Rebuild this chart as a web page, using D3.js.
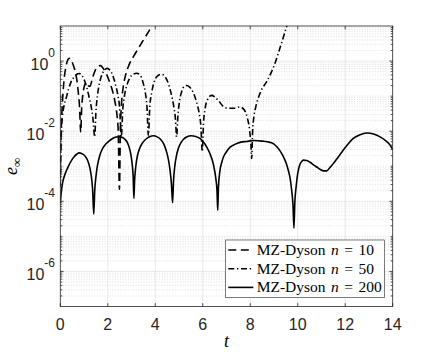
<!DOCTYPE html>
<html>
<head>
<meta charset="utf-8">
<script src="https://cdn.jsdelivr.net/npm/d3@7"></script>
<style>
  body { margin: 0; background: #fff; }
  svg { display: block; }
</style>
</head>
<body>
<div id="chart"></div>
<script>
// MZ-Dyson n = 10 (dashed)
let tN10 = [0, 0.03, 0.08, 0.15, 0.24, 0.32, 0.38, 0.46, 0.55, 0.63, 0.7, 0.76, 0.81, 0.86,
    0.9, 0.95, 1.02, 1.1, 1.18, 1.25, 1.35, 1.48, 1.6, 1.7, 1.82, 1.95, 2.08, 2.2, 2.3, 2.38,
    2.44, 2.49, 2.53, 2.58, 2.65, 2.75, 2.9, 3.1, 3.45, 3.85, 4.0];
let eN10 = [5.0e-4, 6.3e-3, 0.05, 0.25, 0.71, 1.1, 1.2, 1.05, 0.76, 0.5, 0.28, 0.126, 0.05, 9.3e-3,
    0.045, 0.11, 0.2, 0.25, 0.2, 0.19, 0.32, 0.56, 0.72, 0.74, 0.6, 0.42, 0.25, 0.14, 0.071, 0.032,
    0.01, 2.2e-4, 0.01, 0.063, 0.18, 0.4, 0.79, 1.4, 3.5, 10, 16];

// MZ-Dyson n = 50 (dash-dot)
let tN50 = [0, 0.02, 0.06, 0.15, 0.25, 0.35, 0.45, 0.58, 0.7, 0.8, 0.92, 1.02, 1.12, 1.22, 1.3, 1.37,
    1.45, 1.5, 1.57, 1.66, 1.76, 1.87, 1.97, 2.08, 2.2, 2.32, 2.42, 2.5, 2.57, 2.63, 2.7, 2.8,
    2.92, 3.06, 3.22, 3.36, 3.48, 3.58, 3.65, 3.71, 3.77, 3.85, 3.95, 4.1, 4.27, 4.42, 4.56,
    4.68, 4.78, 4.85, 4.9, 4.95, 5.02, 5.12, 5.22, 5.32, 5.45, 5.6, 5.73, 5.84, 5.92, 5.98,
    6.03, 6.1, 6.2, 6.3, 6.38, 6.5, 6.65, 6.85, 7.05, 7.3, 7.57, 7.75, 7.87, 7.97, 8.03, 8.06,
    8.1, 8.15, 8.22, 8.41, 8.69, 8.9, 9.05, 9.18, 9.36, 9.54, 9.7];
let eN50 = [2.5e-4, 3.2e-3, 0.016, 0.05, 0.089, 0.16, 0.25, 0.35, 0.42, 0.44, 0.38, 0.28, 0.17, 0.089, 0.05, 0.025,
    6.9e-3, 0.035, 0.11, 0.25, 0.42, 0.56, 0.62, 0.56, 0.4, 0.22, 0.11, 0.045, 6.9e-3, 0.04, 0.1, 0.2,
    0.32, 0.42, 0.45, 0.4, 0.25, 0.126, 0.05, 7.4e-3, 0.05, 0.126, 0.25, 0.38, 0.42, 0.35, 0.22,
    0.11, 0.05, 0.022, 6.9e-3, 0.025, 0.071, 0.14, 0.19, 0.2, 0.18, 0.126, 0.071, 0.035, 0.014, 2.6e-3,
    0.016, 0.045, 0.079, 0.1, 0.105, 0.095, 0.076, 0.052, 0.045, 0.045, 0.049, 0.04, 0.025, 0.011, 4.0e-3, 1.66e-3,
    0.01, 0.025, 0.045, 0.12, 0.26, 0.5, 0.89, 1.66, 4.0, 10, 20];

// MZ-Dyson n = 200 (solid)
let tN200 = [0, 0.04, 0.09, 0.17, 0.27, 0.37, 0.48, 0.59, 0.69, 0.8, 0.9, 1.0, 1.1, 1.18, 1.25, 1.31, 1.36, 1.41,
    1.45, 1.5, 1.57, 1.66, 1.76, 1.9, 2.05, 2.2, 2.35, 2.49, 2.62, 2.72, 2.82, 2.9, 2.97, 3.03, 3.07, 3.10,
    3.13, 3.18, 3.25, 3.34, 3.45, 3.6, 3.76, 3.92, 4.08, 4.22, 4.35, 4.46, 4.55, 4.62, 4.68, 4.73,
    4.77, 4.83, 4.9, 4.97, 5.07, 5.18, 5.34, 5.51, 5.7, 5.88, 6.03, 6.17, 6.3, 6.4, 6.48, 6.55, 6.6, 6.63,
    6.66, 6.72, 6.8, 6.88, 7.0, 7.15, 7.35, 7.57, 7.85, 8.17, 8.5, 8.83, 9.0, 9.12, 9.25, 9.39, 9.5, 9.6,
    9.68, 9.74, 9.8, 9.84, 9.88, 9.93, 10.0, 10.08, 10.16, 10.24, 10.38, 10.52, 10.66, 10.8, 10.95, 11.1,
    11.22, 11.35, 11.5, 11.7, 11.92, 12.13, 12.34, 12.6, 12.9, 13.2, 13.47, 13.7, 13.89, 14.0];
let eN200 = [8.9e-5, 1.8e-4, 3.2e-4, 5.2e-4, 7.8e-4, 1.1e-3, 1.5e-3, 1.9e-3, 2.2e-3, 2.4e-3, 2.3e-3, 2.1e-3, 1.7e-3, 1.3e-3, 8.7e-4, 5.0e-4, 2.2e-4, 4.3e-5,
    2.0e-4, 5.0e-4, 1.1e-3, 2.0e-3, 3.0e-3, 4.2e-3, 5.2e-3, 6.2e-3, 6.8e-3, 6.9e-3, 6.6e-3, 5.9e-3, 4.8e-3, 3.5e-3, 2.2e-3, 1.1e-3, 5.0e-4, 1.2e-4,
    4.0e-4, 1.0e-3, 2.0e-3, 3.2e-3, 4.5e-3, 5.9e-3, 6.9e-3, 7.4e-3, 6.9e-3, 5.9e-3, 4.4e-3, 2.8e-3, 1.6e-3, 7.9e-4, 3.2e-4, 9.1e-5,
    4.0e-4, 1.1e-3, 2.1e-3, 3.2e-3, 4.6e-3, 5.8e-3, 6.9e-3, 7.4e-3, 7.1e-3, 6.2e-3, 4.9e-3, 3.5e-3, 2.3e-3, 1.5e-3, 8.9e-4, 4.5e-4, 2.0e-4, 5.5e-5,
    2.5e-4, 7.1e-4, 1.3e-3, 1.9e-3, 2.6e-3, 3.5e-3, 4.2e-3, 4.8e-3, 5.1e-3, 5.4e-3, 5.2e-3, 4.8e-3, 4.3e-3, 3.6e-3, 2.8e-3, 1.9e-3, 1.3e-3, 7.8e-4,
    4.5e-4, 2.2e-4, 7.9e-5, 1.7e-5, 1.0e-4, 2.5e-4, 6.3e-4, 1.07e-3, 1.35e-3, 1.5e-3, 1.45e-3, 1.3e-3, 1.1e-3, 9.5e-4, 8.1e-4, 7.4e-4,
    7.4e-4, 9.1e-4, 1.2e-3, 1.8e-3, 2.9e-3, 4.4e-3, 6.2e-3, 7.8e-3, 8.9e-3, 8.3e-3, 6.9e-3, 5.4e-3, 4.0e-3, 3.0e-3];

let xTicks = [0, 2, 4, 6, 8, 10, 12, 14];
let yTickExps = [-6, -4, -2, 0];
let legendNs = ["10", "50", "200"];

let w = 434;
let h = 354;
let plotLeft = 60.3, plotRight = 392.7, plotTop = 26, plotBottom = 306.5;
let axisColor = "#262626";
let sans = "'Liberation Sans', Arial, sans-serif";
let serif = "'Liberation Serif', 'Times New Roman', serif";

let x = d3.scaleLinear().domain([0, 14]).range([plotLeft, plotRight]);
let y = d3.scaleLog().domain([1e-7, 10]).range([plotBottom, plotTop]);

let svg = d3.select("#chart")
    .append("svg")
    .attr("width", w)
    .attr("height", h);

svg.append("rect").attr("width", w).attr("height", h).attr("fill", "#fff");

svg.append("clipPath").attr("id", "plotclip")
    .append("rect")
    .attr("x", plotLeft).attr("y", plotTop)
    .attr("width", plotRight - plotLeft).attr("height", plotBottom - plotTop);

// minor grid (dotted) for the log axis
let majorVals = yTickExps.map((p) => Math.pow(10, p));
let isMajor = (v) => majorVals.some((m) => Math.abs(Math.log10(v) - Math.log10(m)) < 1e-6);
let minorVals = y.ticks().filter((v) => !isMajor(v) && v > 1e-7 * 1.01 && v < 10 * 0.99);

svg.append("g").selectAll("line")
    .data(minorVals)
    .enter()
    .append("line")
    .attr("x1", plotLeft).attr("x2", plotRight)
    .attr("y1", (d) => y(d)).attr("y2", (d) => y(d))
    .attr("stroke", "#cccccc")
    .attr("stroke-width", 0.6)
    .attr("stroke-dasharray", "1,1.6");

// major grid
svg.append("g").selectAll("line")
    .data(majorVals)
    .enter()
    .append("line")
    .attr("x1", plotLeft).attr("x2", plotRight)
    .attr("y1", (d) => y(d)).attr("y2", (d) => y(d))
    .attr("stroke", "#e3e3e3")
    .attr("stroke-width", 0.8);

svg.append("g").selectAll("line")
    .data(xTicks.slice(1, -1))
    .enter()
    .append("line")
    .attr("x1", (d) => x(d)).attr("x2", (d) => x(d))
    .attr("y1", plotTop).attr("y2", plotBottom)
    .attr("stroke", "#e3e3e3")
    .attr("stroke-width", 0.8);

// curves
let series = [
    { t: tN10, e: eN10, dash: "8,4.5" },
    { t: tN50, e: eN50, dash: "6,2.7,1.3,2.7" },
    { t: tN200, e: eN200, dash: null }
];

let line = d3.line()
    .x((d) => x(d[0]))
    .y((d) => y(d[1]))
    .curve(d3.curveMonotoneX);

svg.append("g")
    .attr("clip-path", "url(#plotclip)")
    .selectAll("path")
    .data(series)
    .enter()
    .append("path")
    .attr("d", (s) => line(s.t.map((t, i) => [t, s.e[i]])))
    .attr("fill", "none")
    .attr("stroke", "#000")
    .attr("stroke-width", 1.6)
    .attr("stroke-dasharray", (s) => s.dash);

// axes box and ticks
let tickLen = 3.3;
let axes = svg.append("g").attr("stroke", axisColor).attr("stroke-width", 0.8).attr("fill", "none");
axes.append("rect")
    .attr("x", plotLeft).attr("y", plotTop)
    .attr("width", plotRight - plotLeft).attr("height", plotBottom - plotTop);

xTicks.forEach((v) => {
    axes.append("line").attr("x1", x(v)).attr("x2", x(v)).attr("y1", plotBottom).attr("y2", plotBottom - tickLen);
    axes.append("line").attr("x1", x(v)).attr("x2", x(v)).attr("y1", plotTop).attr("y2", plotTop + tickLen);
});
majorVals.forEach((v) => {
    axes.append("line").attr("x1", plotLeft).attr("x2", plotLeft + tickLen).attr("y1", y(v)).attr("y2", y(v));
    axes.append("line").attr("x1", plotRight).attr("x2", plotRight - tickLen).attr("y1", y(v)).attr("y2", y(v));
});
minorVals.forEach((v) => {
    axes.append("line").attr("x1", plotLeft).attr("x2", plotLeft + 2).attr("y1", y(v)).attr("y2", y(v));
    axes.append("line").attr("x1", plotRight).attr("x2", plotRight - 2).attr("y1", y(v)).attr("y2", y(v));
});

// tick labels
svg.append("g").selectAll("text")
    .data(xTicks)
    .enter()
    .append("text")
    .attr("x", (d) => x(d))
    .attr("y", plotBottom + 23)
    .attr("text-anchor", "middle")
    .attr("font-family", sans)
    .attr("font-size", 16)
    .attr("fill", axisColor)
    .text((d) => d);

let ylab = svg.append("g").selectAll("text")
    .data(yTickExps)
    .enter()
    .append("text")
    .attr("x", 55)
    .attr("y", (d) => y(Math.pow(10, d)) + 8.5)
    .attr("text-anchor", "end")
    .attr("font-family", sans)
    .attr("font-size", 16)
    .attr("fill", axisColor);
ylab.append("tspan").text("10");
ylab.append("tspan")
    .attr("dy", -12.5)
    .attr("font-size", 12)
    .text((d) => d);

// axis titles
svg.append("text")
    .attr("x", (plotLeft + plotRight) / 2)
    .attr("y", 346.5)
    .attr("text-anchor", "middle")
    .attr("font-family", serif)
    .attr("font-style", "italic")
    .attr("font-size", 18)
    .attr("fill", "#000")
    .text("t");

let ey = svg.append("text")
    .attr("transform", "translate(17," + ((plotTop + plotBottom) / 2) + ") rotate(-90)")
    .attr("text-anchor", "middle")
    .attr("font-family", serif)
    .attr("font-size", 18)
    .attr("fill", "#000");
ey.append("tspan").attr("font-style", "italic").text("e");
ey.append("tspan").attr("dy", 4).attr("font-size", 13).text("\u221E");

// legend
let lg = svg.append("g");
lg.append("rect")
    .attr("x", 225.7).attr("y", 240)
    .attr("width", 158.6).attr("height", 57.7)
    .attr("fill", "#fff")
    .attr("stroke", axisColor)
    .attr("stroke-width", 0.6);

let rows = lg.selectAll("g.row")
    .data(series)
    .enter()
    .append("g")
    .attr("class", "row")
    .attr("transform", (d, i) => "translate(0," + (250 + i * 18.7) + ")");

rows.append("line")
    .attr("x1", 228.3).attr("x2", 253.3)
    .attr("y1", 0).attr("y2", 0)
    .attr("stroke", "#000")
    .attr("stroke-width", 1.6)
    .attr("stroke-dasharray", (s) => s.dash);

let lt = rows.append("text")
    .attr("x", 256.7)
    .attr("y", 5)
    .attr("font-family", serif)
    .attr("font-size", 15.5)
    .attr("word-spacing", 1.6)
    .attr("fill", "#000");
lt.append("tspan").text("MZ-Dyson ");
lt.append("tspan").attr("font-style", "italic").text("n");
lt.append("tspan").text((d, i) => " = " + legendNs[i]);
</script>
</body>
</html>
